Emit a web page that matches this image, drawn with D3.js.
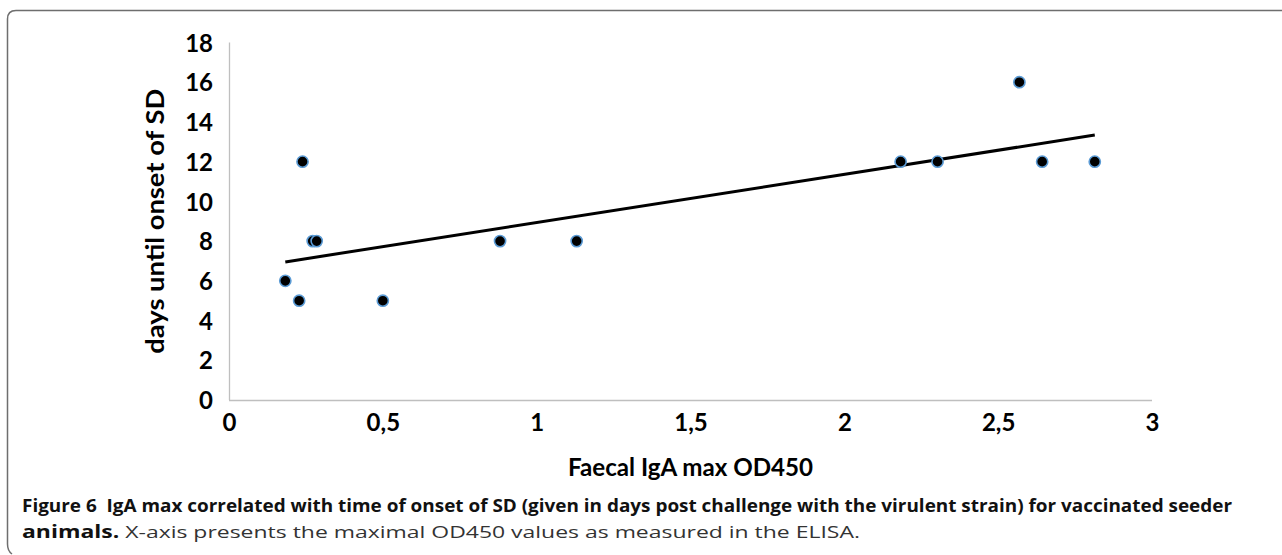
<!DOCTYPE html>
<html>
<head>
<meta charset="utf-8">
<script src="https://cdn.jsdelivr.net/npm/d3@7"></script>
<style>
  html, body { margin: 0; padding: 0; background: #fff; }
  svg { display: block; }
</style>
</head>
<body>
<svg id="chart" width="1282" height="555"></svg>
<script>
// Data
const igaMax = [0.183, 0.228, 0.239, 0.272, 0.285, 0.50, 0.881, 1.13, 2.183, 2.303, 2.569, 2.643, 2.814];
const daysOnset = [6, 5, 12, 8, 8, 5, 8, 8, 12, 12, 16, 12, 12];
const xTicks = [0, 0.5, 1, 1.5, 2, 2.5, 3];
const xTickLabels = ["0", "0,5", "1", "1,5", "2", "2,5", "3"];
const yTicks = [0, 2, 4, 6, 8, 10, 12, 14, 16, 18];
const xTitle = "Faecal IgA max OD450";
const yTitle = "days until onset of SD";
const captionBold1 = "Figure 6\u00a0 IgA max correlated with time of onset of SD (given in days post challenge with the virulent strain) for vaccinated seeder";
const captionBold2 = "animals.";
const captionRegular2 = " X-axis presents the maximal OD450 values as measured in the ELISA.";

const svg = d3.select("#chart");
const pLeft = 229, pRight = 1152, pTop = 42.5, pBottom = 400;

const x = d3.scaleLinear().domain([0, 3]).range([pLeft, pRight]);
const y = d3.scaleLinear().domain([0, 18]).range([pBottom, pTop]);

// Frame (rounded panel border)
svg.append("path")
  .attr("d", "M7.5,544 L7.5,19 Q7.5,10.5 16,10.5 L1282,10.5")
  .attr("fill", "none").attr("stroke", "#6e6e6e").attr("stroke-width", 1.5);
svg.append("path")
  .attr("d", "M7.5,544 Q7.5,551 12,554")
  .attr("fill", "none").attr("stroke", "#6e6e6e").attr("stroke-width", 1.5);

const chartFont = "Lato, 'Open Sans', sans-serif";

// Axes
const xAxis = d3.axisBottom(x).tickValues(xTicks).tickSize(0)
  .tickFormat((d, i) => xTickLabels[i]).tickPadding(12);
const gx = svg.append("g").attr("transform", `translate(0,${pBottom})`).call(xAxis);
gx.select(".domain").attr("stroke", "#bfbfbf").attr("stroke-width", 1.3).attr("d", `M${pLeft},0.5H${pRight}`);
gx.selectAll("text").attr("font-family", chartFont).attr("font-weight", "bold")
  .attr("font-size", 24).attr("fill", "#000").attr("dy", "0.78em");

const yAxis = d3.axisLeft(y).tickValues(yTicks).tickSize(0).tickPadding(16);
const gy = svg.append("g").attr("transform", `translate(${pLeft},0)`).call(yAxis);
gy.select(".domain").attr("stroke", "#bfbfbf").attr("stroke-width", 1.3).attr("d", `M0.5,${pTop}V${pBottom}`);
gy.selectAll("text").attr("font-family", chartFont).attr("font-weight", "bold")
  .attr("font-size", 24).attr("fill", "#000").attr("dy", "0.36em");

// Axis titles
svg.append("text")
  .attr("x", (pLeft + pRight) / 2).attr("y", 476)
  .attr("text-anchor", "middle")
  .attr("font-family", chartFont).attr("font-weight", "bold").attr("font-size", 24)
  .attr("textLength", 245).attr("lengthAdjust", "spacingAndGlyphs")
  .text(xTitle);

svg.append("text")
  .attr("transform", `translate(164,${(pTop + pBottom) / 2}) rotate(-90)`)
  .attr("text-anchor", "middle")
  .attr("font-family", chartFont).attr("font-weight", "bold").attr("font-size", 24)
  .attr("textLength", 265).attr("lengthAdjust", "spacingAndGlyphs")
  .text(yTitle);

// Linear trend line (least squares from the data)
const n = igaMax.length;
const mx = d3.mean(igaMax), my = d3.mean(daysOnset);
let sxy = 0, sxx = 0;
for (let i = 0; i < n; i++) { sxy += (igaMax[i] - mx) * (daysOnset[i] - my); sxx += (igaMax[i] - mx) ** 2; }
const slope = sxy / sxx, intercept = my - slope * mx;
const xMin = d3.min(igaMax), xMax = d3.max(igaMax);
svg.append("line")
  .attr("x1", x(xMin)).attr("y1", y(intercept + slope * xMin))
  .attr("x2", x(xMax)).attr("y2", y(intercept + slope * xMax))
  .attr("stroke", "#000").attr("stroke-width", 3);

// Points
svg.append("g").selectAll("circle")
  .data(igaMax.map((v, i) => [v, daysOnset[i]]))
  .join("circle")
  .attr("cx", d => x(d[0])).attr("cy", d => y(d[1]))
  .attr("r", 5.6)
  .attr("fill", "#000").attr("stroke", "#5b9bd5").attr("stroke-width", 1.6);

// Caption
const capFont = "'Open Sans', 'Noto Sans', sans-serif";
svg.append("text")
  .attr("x", 22).attr("y", 512)
  .attr("font-family", capFont).attr("font-weight", "bold").attr("font-size", 17)
  .attr("textLength", 1210).attr("lengthAdjust", "spacingAndGlyphs")
  .attr("fill", "#111")
  .text(captionBold1);

const cap2 = svg.append("text")
  .attr("x", 22).attr("y", 538)
  .attr("font-family", capFont).attr("font-size", 17)
  .attr("textLength", 838).attr("lengthAdjust", "spacingAndGlyphs")
  .attr("fill", "#111");
cap2.append("tspan").attr("font-weight", "bold").text(captionBold2);
cap2.append("tspan").attr("fill", "#333").text(captionRegular2);
</script>
</body>
</html>
